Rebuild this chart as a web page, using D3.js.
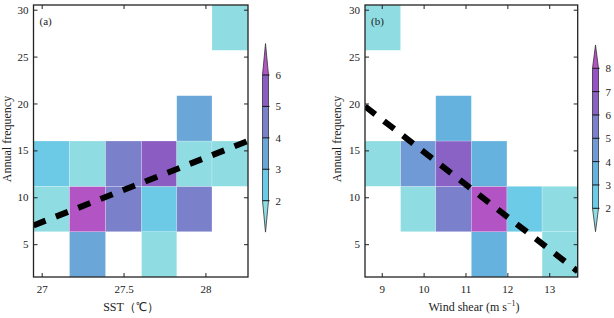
<!DOCTYPE html>
<html>
<head>
<meta charset="utf-8">
<script src="https://cdn.jsdelivr.net/npm/d3@7"></script>
<style>
  body { margin: 0; background: #fff; }
  svg { display: block; }
  text { font-family: "Liberation Serif", "Times New Roman", serif; fill: #222; }
</style>
</head>
<body>
<div id="chart"></div>
<script>
// ---- data --------------------------------------------------------------
// bin edges
const sstEdges   = [26.95, 27.17, 27.39, 27.61, 27.825, 28.04, 28.26];
const shearEdges = [8.6, 9.45, 10.29, 11.14, 11.99, 12.83, 13.68];
const freqEdges  = [1.5, 6.33, 11.17, 16, 20.83, 25.67, 30.5];

// counts: rows = frequency bins from bottom to top, columns = x bins left to right (0 = empty)
const sstCounts = [
  [0, 3, 0, 1, 0, 0],
  [1, 6, 4, 2, 4, 0],
  [2, 1, 4, 5, 1, 1],
  [0, 0, 0, 0, 3, 0],
  [0, 0, 0, 0, 0, 0],
  [0, 0, 0, 0, 0, 1]
];
const shearCounts = [
  [0, 0, 0, 3, 0, 1],
  [0, 1, 5, 8, 2, 1],
  [1, 4, 6, 3, 0, 0],
  [0, 0, 3, 0, 0, 0],
  [0, 0, 0, 0, 0, 0],
  [1, 0, 0, 0, 0, 0]
];

// regression lines (end points)
const sstFit   = [[26.95, 7.0], [28.26, 16.0]];
const shearFit = [[8.6, 19.7], [13.68, 2.1]];

const freqTicks  = [5, 10, 15, 20, 25, 30];
const sstTicks   = [27, 27.5, 28];
const shearTicks = [9, 10, 11, 12, 13];
const sstLevels   = [2, 3, 4, 5, 6];
const shearLevels = [2, 3, 4, 5, 6, 7, 8];

// under, level bands..., over
const sstColors   = ['#8fdde3', '#6ccae6', '#6aa6d8', '#7a80c9', '#8b5dc3', '#b354c4'];
const shearColors = ['#8fdde3', '#6ccbe6', '#65b2df', '#6f9ad5', '#7a80cb', '#8a62c6', '#9552c6', '#b354c4'];

// ---- svg ---------------------------------------------------------------
const width = 614, height = 318;
const svg = d3.select('#chart').append('svg')
  .attr('width', width).attr('height', height)
  .attr('viewBox', [0, 0, width, height]);

const plotTop = 5, plotBottom = 277;

function drawPanel(opt) {
  const g = svg.append('g').attr('id', opt.id);
  const x = d3.scaleLinear().domain([opt.edges[0], opt.edges[opt.edges.length - 1]]).range([opt.left, opt.right]);
  const y = d3.scaleLinear().domain([freqEdges[0], freqEdges[freqEdges.length - 1]]).range([plotBottom, plotTop]);
  const color = d3.scaleThreshold().domain(opt.levels).range(opt.colors);

  // cells
  const cells = [];
  opt.counts.forEach((row, r) => row.forEach((v, c) => { if (v > 0) cells.push({ r, c, v }); }));
  g.append('g').selectAll('rect')
    .data(cells)
    .join('rect')
    .attr('x', d => x(opt.edges[d.c]))
    .attr('y', d => y(freqEdges[d.r + 1]))
    .attr('width', d => x(opt.edges[d.c + 1]) - x(opt.edges[d.c]))
    .attr('height', d => y(freqEdges[d.r]) - y(freqEdges[d.r + 1]))
    .attr('fill', d => color(d.v))
    .attr('stroke', 'rgba(255,255,255,0.35)')
    .attr('stroke-width', 0.6);

  // dashed fit line, clipped to the plot box
  g.append('clipPath').attr('id', opt.id + '-clip')
    .append('rect').attr('x', opt.left).attr('y', plotTop)
    .attr('width', opt.right - opt.left).attr('height', plotBottom - plotTop);
  g.append('path')
    .datum(opt.fit)
    .attr('clip-path', `url(#${opt.id}-clip)`)
    .attr('d', d3.line().x(d => x(d[0])).y(d => y(d[1])))
    .attr('fill', 'none')
    .attr('stroke', '#000')
    .attr('stroke-width', 6)
    .attr('stroke-dasharray', '13 11');

  // axes: ticks inside on all four sides
  const axL = g.append('g').attr('transform', `translate(${opt.left},0)`)
    .call(d3.axisLeft(y).tickValues(freqTicks).tickSize(-4).tickPadding(5));
  const axR = g.append('g').attr('transform', `translate(${opt.right},0)`)
    .call(d3.axisRight(y).tickValues(freqTicks).tickSize(-4).tickFormat(''));
  const axB = g.append('g').attr('transform', `translate(0,${plotBottom})`)
    .call(d3.axisBottom(x).tickValues(opt.ticks).tickSize(-4).tickPadding(8).tickFormat(d3.format('')));
  const axT = g.append('g').attr('transform', `translate(0,${plotTop})`)
    .call(d3.axisTop(x).tickValues(opt.ticks).tickSize(-4).tickFormat(''));
  [axL, axR, axB, axT].forEach(a => {
    a.select('.domain').remove();
    a.selectAll('line').attr('stroke', '#222');
    a.selectAll('text').attr('font-family', '"Liberation Serif", serif').attr('font-size', 11).attr('fill', '#222');
  });

  g.append('rect')
    .attr('x', opt.left).attr('y', plotTop)
    .attr('width', opt.right - opt.left).attr('height', plotBottom - plotTop)
    .attr('fill', 'none').attr('stroke', '#222').attr('stroke-width', 1.3);

  // labels
  g.append('text')
    .attr('x', opt.left + 6).attr('y', 25)
    .attr('font-size', 11)
    .text(opt.tag);
  g.append('text')
    .attr('transform', `translate(${opt.ylabX},139) rotate(-90)`)
    .attr('text-anchor', 'middle')
    .attr('font-size', 12)
    .text('Annual frequency');
  const xl = g.append('text')
    .attr('x', opt.xlabX).attr('y', 311)
    .attr('text-anchor', 'middle')
    .attr('font-size', 12);
  opt.xlabel(xl);

  // colorbar
  const cb = d3.scaleLinear()
    .domain([opt.levels[0], opt.levels[opt.levels.length - 1]])
    .range([opt.cbBottom, opt.cbTop]);
  const cx0 = opt.cbX, cx1 = opt.cbX + 6, cxm = opt.cbX + 3;
  const lo = opt.levels[0], hi = opt.levels[opt.levels.length - 1];
  const cbg = g.append('g').attr('class', 'colorbar');
  cbg.append('path')
    .attr('d', `M${cx0},${cb(lo)}L${cx1},${cb(lo)}L${cxm},${cb(lo - 1)}Z`)
    .attr('fill', opt.colors[0]);
  cbg.selectAll('rect')
    .data(d3.pairs(opt.levels))
    .join('rect')
    .attr('x', cx0).attr('width', 6)
    .attr('y', d => cb(d[1]))
    .attr('height', d => cb(d[0]) - cb(d[1]))
    .attr('fill', (d, i) => opt.colors[i + 1]);
  cbg.append('path')
    .attr('d', `M${cx0},${cb(hi)}L${cx1},${cb(hi)}L${cxm},${cb(hi + 1)}Z`)
    .attr('fill', opt.colors[opt.colors.length - 1]);
  cbg.append('path')
    .attr('d', `M${cx0},${cb(lo)}L${cxm},${cb(lo - 1)}L${cx1},${cb(lo)}L${cx1},${cb(hi)}L${cxm},${cb(hi + 1)}L${cx0},${cb(hi)}Z`)
    .attr('fill', 'none').attr('stroke', '#333').attr('stroke-width', 0.8);
  cbg.selectAll('line')
    .data(opt.levels)
    .join('line')
    .attr('x1', cx0).attr('x2', cx1 + 1)
    .attr('y1', d => cb(d)).attr('y2', d => cb(d))
    .attr('stroke', '#111').attr('stroke-width', 1);
  cbg.selectAll('text')
    .data(opt.levels)
    .join('text')
    .attr('x', cx1 + 7).attr('y', d => cb(d) + 4)
    .attr('font-size', 11)
    .text(d => d);
}

drawPanel({
  id: 'panel-a', tag: '(a)',
  left: 33.5, right: 248,
  edges: sstEdges, counts: sstCounts, fit: sstFit, ticks: sstTicks,
  levels: sstLevels, colors: sstColors,
  ylabX: 11, xlabX: 131,
  xlabel: t => t.text('SST（℃）'),
  cbX: 262.5, cbTop: 75, cbBottom: 200.7
});

drawPanel({
  id: 'panel-b', tag: '(b)',
  left: 365, right: 577.7,
  edges: shearEdges, counts: shearCounts, fit: shearFit, ticks: shearTicks,
  levels: shearLevels, colors: shearColors,
  ylabX: 341, xlabX: 474,
  xlabel: t => {
    t.append('tspan').text('Wind shear (m s');
    t.append('tspan').attr('dy', -5).attr('font-size', 8).text('−1');
    t.append('tspan').attr('dy', 5).text(')');
  },
  cbX: 592.5, cbTop: 68.3, cbBottom: 208.3
});
</script>
</body>
</html>
